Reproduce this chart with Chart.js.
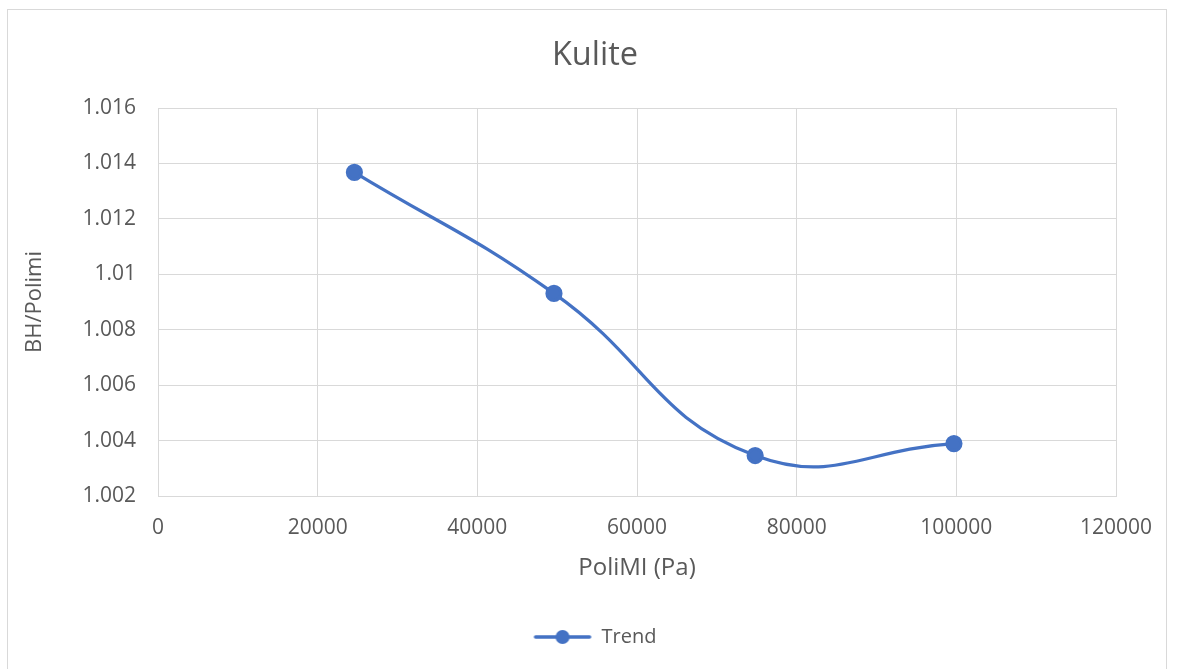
<!DOCTYPE html>
<html>
<head>
<meta charset="utf-8">
<script src="https://cdn.jsdelivr.net/npm/chart.js@4.4.1/dist/chart.umd.min.js"></script>
<style>
  html, body { margin: 0; padding: 0; background: #ffffff; overflow: hidden; }
  #frame {
    position: absolute; left: 7px; top: 9px; width: 1160px; height: 700px;
    border: 1px solid #d9d9d9; box-sizing: border-box;
  }
  #wrap { position: absolute; left: 0; top: 0; width: 1178px; height: 669px; }
</style>
</head>
<body>
<div id="frame"></div>
<div id="wrap"><canvas id="c" width="1178" height="669"></canvas></div>
<script>
// Kulite: BH/Polimi ratio against PoliMI pressure
const pressurePa = [24600, 49600, 74800, 99700];
const bhOverPolimi = [1.01368, 1.00931, 1.00346, 1.00389];
const seriesName = 'Trend';
const xTicks = [0, 20000, 40000, 60000, 80000, 100000, 120000];
const yTicks = [1.002, 1.004, 1.006, 1.008, 1.01, 1.012, 1.014, 1.016];

const BLUE = '#4472c4';
const TEXT = '#595959';
const GRID = '#d9d9d9';
const FONT = "'Open Sans', 'Noto Sans', sans-serif";

// legend swatch: a line with a round marker in the middle
function legendSwatch() {
  const cv = document.createElement('canvas');
  cv.width = 60; cv.height = 16;
  const g = cv.getContext('2d');
  g.strokeStyle = BLUE; g.lineWidth = 3.5; g.lineCap = 'round';
  g.beginPath(); g.moveTo(3, 8); g.lineTo(57, 8); g.stroke();
  g.fillStyle = BLUE;
  g.beginPath(); g.arc(30, 8, 7, 0, Math.PI * 2); g.fill();
  return cv;
}
const swatch = legendSwatch();

new Chart(document.getElementById('c'), {
  type: 'scatter',
  data: {
    datasets: [{
      label: seriesName,
      data: pressurePa.map((x, i) => ({ x, y: bhOverPolimi[i] })),
      showLine: true,
      borderColor: BLUE,
      backgroundColor: BLUE,
      borderWidth: 3.2,
      pointRadius: 7,
      pointHoverRadius: 7,
      tension: 0.45,
      pointStyle: 'circle'
    }]
  },
  options: {
    responsive: false,
    animation: false,
    devicePixelRatio: 1,
    layout: { padding: { left: 74, right: 62, top: 10, bottom: 12 } },
    plugins: {
      tooltip: { enabled: false },
      title: {
        display: true,
        text: 'Kulite',
        color: TEXT,
        font: { family: FONT, size: 32.5, weight: 'normal' },
        padding: { top: 26, bottom: 33 }
      },
      legend: {
        position: 'bottom',
        labels: {
          color: TEXT,
          font: { family: FONT, size: 20 },
          usePointStyle: true,
          pointStyleWidth: 58,
          boxHeight: 16,
          padding: 10,
          generateLabels: () => [{
            text: seriesName,
            fillStyle: BLUE,
            strokeStyle: BLUE,
            lineWidth: 0,
            pointStyle: swatch,
            fontColor: TEXT,
            datasetIndex: 0
          }]
        }
      }
    },
    scales: {
      x: {
        type: 'linear',
        min: 0, max: 120000,
        afterBuildTicks: (s) => { s.ticks = xTicks.map(v => ({ value: v })); },
        afterFit: (s) => { s.height = 121; },
        grid: { color: GRID, lineWidth: 1, drawTicks: false },
        border: { display: true, color: GRID },
        ticks: {
          color: TEXT, font: { family: FONT, size: 21 }, padding: 19,
          maxRotation: 0, callback: (v) => String(v)
        },
        title: {
          display: true, text: 'PoliMI (Pa)', color: TEXT,
          font: { family: FONT, size: 24 }, padding: { top: 0, bottom: 34 }
        }
      },
      y: {
        type: 'linear',
        min: 1.002, max: 1.016,
        afterBuildTicks: (s) => { s.ticks = yTicks.map(v => ({ value: v })); },
        afterFit: (s) => { s.width = 84; },
        grid: { color: GRID, lineWidth: 1, drawTicks: false },
        border: { display: false },
        ticks: {
          color: TEXT, font: { family: FONT, size: 21 }, padding: 22,
          callback: (v) => String(parseFloat(v.toFixed(3)))
        },
        title: {
          display: true, text: 'BH/Polimi', color: TEXT,
          font: { family: FONT, size: 22 }, padding: { top: -52, bottom: 0 }
        }
      }
    }
  }
});
</script>
</body>
</html>
